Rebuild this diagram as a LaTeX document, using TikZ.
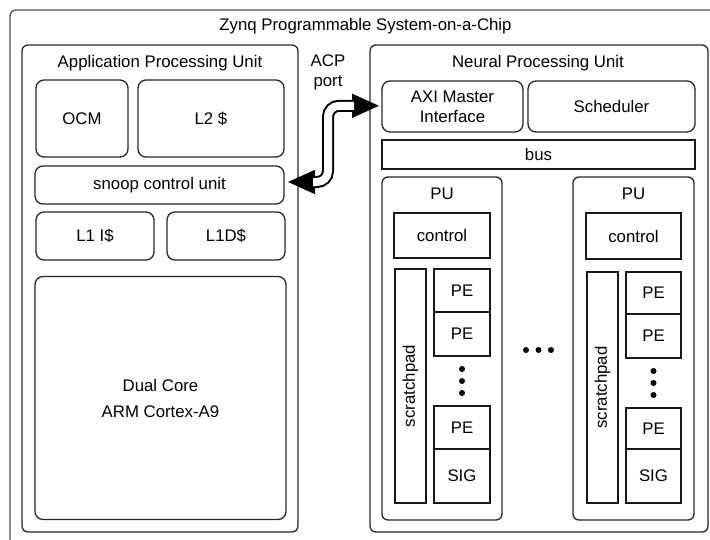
\documentclass[tikz,border=0pt]{standalone}
\usepackage{fontspec}
\setmainfont{Liberation Sans}
\usetikzlibrary{arrows.meta}
\begin{document}
\begin{tikzpicture}[x=1pt,y=-1pt,
  every node/.style={font=\fontsize{16.8}{20}\selectfont, inner sep=0pt, outer sep=0pt, align=center},
  rbox/.style={draw=black!85, line width=1.3pt, rounded corners=8pt},
  cbox/.style={draw=black!85, line width=1.3pt, rounded corners=6pt},
  sbox/.style={draw=black!90, line width=1.3pt},
  lbl/.style={draw=none},
  dotc/.style={fill=black},
  acpouter/.style={line width=12pt, rounded corners=11pt,
    {Triangle[length=28pt,width=22pt]}-{Triangle[length=28pt,width=22pt]}},
  acpinner/.style={line width=8pt, draw=white, rounded corners=11pt,
    shorten <=26pt, shorten >=26pt}
]
\clip (0,0) rectangle (710,539);
% outer chip
\node[cbox, draw=black!70, minimum width=712pt, minimum height=538pt] (chip) at (366,279) {};
\node[lbl] (chipt) at (365.5,26) {Zynq Programmable System-on-a-Chip};
% APU
\node[cbox, minimum width=276pt, minimum height=487pt] (apu) at (160,288.5) {};
\node[lbl] (aput) at (160,63) {Application Processing Unit};
\node[rbox, minimum width=92pt, minimum height=77pt] (ocm) at (82,118.5) {OCM};
\node[rbox, minimum width=146pt, minimum height=77pt] (l2) at (211,118.5) {L2 \$};
\node[rbox, minimum width=249pt, minimum height=38pt] (snoop) at (159.5,185) {snoop control unit};
\node[rbox, minimum width=118pt, minimum height=48pt] (l1i) at (95,236) {L1 I\$};
\node[rbox, minimum width=118pt, minimum height=48pt] (l1d) at (226,236) {L1D\$};
\node[rbox, minimum width=251pt, minimum height=243pt, font=\fontsize{16.8}{26}\selectfont] (arm) at (160.5,398) {Dual Core\\ARM Cortex-A9};
% ACP label
\node[lbl] (acp) at (328,72) {ACP\\port};
% NPU
\node[cbox, minimum width=338pt, minimum height=487pt] (npu) at (539,288.5) {};
\node[lbl] (nput) at (538,63) {Neural Processing Unit};
\node[rbox, minimum width=141pt, minimum height=51pt] (axi) at (452.5,106.5) {AXI Master\\Interface};
\node[rbox, minimum width=167pt, minimum height=51pt] (sched) at (611.5,106.5) {Scheduler};
\node[sbox, minimum width=313pt, minimum height=29pt] (bus) at (538.5,154.5) {bus};
% PU 1
\node[cbox, minimum width=120pt, minimum height=343pt] (pua) at (442,348.5) {};
\node[lbl] (puat) at (442,194) {PU};
\node[sbox, minimum width=96pt, minimum height=45pt] (ctla) at (442,235.5) {control};
\node[sbox, minimum width=31pt, minimum height=234pt] (spa) at (410.5,386) {};
\node[lbl, rotate=90] (spat) at (spa.center) {scratchpad};
\node[sbox, minimum width=56pt, minimum height=43pt] (pea1) at (462,290.5) {PE};
\node[sbox, minimum width=56pt, minimum height=44pt] (pea2) at (462,334) {PE};
\node[sbox, minimum width=56pt, minimum height=43pt] (pea3) at (462,427.5) {PE};
\node[sbox, minimum width=56pt, minimum height=54pt] (siga) at (462,476) {SIG};
\fill[dotc] (462,369) circle (3pt) (462,381) circle (3pt) (462,393) circle (3pt);
% PU 2
\node[cbox, minimum width=121pt, minimum height=343pt] (pub) at (633.5,348.5) {};
\node[lbl] (pubt) at (633.5,194) {PU};
\node[sbox, minimum width=95pt, minimum height=46pt] (ctlb) at (633.5,236) {control};
\node[sbox, minimum width=31pt, minimum height=231pt] (spb) at (602.5,387.5) {};
\node[lbl, rotate=90] (spbt) at (spb.center) {scratchpad};
\node[sbox, minimum width=55pt, minimum height=42pt] (peb1) at (653.5,293) {PE};
\node[sbox, minimum width=55pt, minimum height=44pt] (peb2) at (653.5,336) {PE};
\node[sbox, minimum width=55pt, minimum height=41pt] (peb3) at (653.5,428.5) {PE};
\node[sbox, minimum width=55pt, minimum height=54pt] (sigb) at (653.5,476) {SIG};
\fill[dotc] (653.5,371) circle (3pt) (653.5,383) circle (3pt) (653.5,395) circle (3pt);
% horizontal dots
\fill[dotc] (526,350) circle (3pt) (538.5,350) circle (3pt) (551,350) circle (3pt);
% ACP arrow (hollow double-headed)
\draw[acpouter] ([xshift=3pt,yshift=3pt]snoop.east) -- (328,182) -- (328,105.8) -- ([xshift=-2pt,yshift=0.7pt]axi.west);
\draw[acpinner] ([xshift=3pt,yshift=3pt]snoop.east) -- (328,182) -- (328,105.8) -- ([xshift=-2pt,yshift=0.7pt]axi.west);
\end{tikzpicture}
\end{document}
